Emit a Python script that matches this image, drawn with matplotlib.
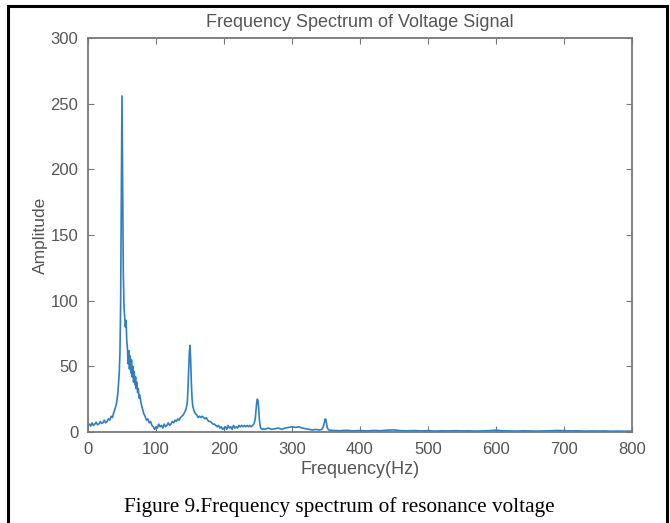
import matplotlib
matplotlib.use("Agg")
import matplotlib.pyplot as plt
from matplotlib.patches import Rectangle

# spectrum (Hz, amplitude)
freq = [0, 2, 4, 6, 8, 10, 12, 14, 16, 18, 20, 22, 24, 26, 28, 30, 32, 34, 36, 38,
        40, 42, 44, 46, 47, 48, 49, 50, 51, 52, 53, 54, 55, 56, 57, 58, 59, 60, 61, 62,
        63, 64, 65, 66, 67, 68, 69, 70, 71, 72, 73, 74, 75, 76, 78, 80, 82, 84, 86, 88,
        90, 92, 94, 96, 98, 100, 102, 104, 106, 108, 110, 112, 114, 116, 118, 120, 122, 124, 126, 128,
        130, 132, 134, 136, 138, 140, 142, 144, 146, 147, 148, 149, 150, 151, 152, 153, 154, 156, 158, 160,
        162, 164, 166, 168, 170, 172, 174, 176, 178, 180, 182, 184, 186, 188, 190, 192, 194, 196, 198, 200,
        202, 204, 206, 208, 210, 212, 214, 216, 218, 220, 222, 224, 226, 228, 230, 232, 234, 236, 238, 240,
        242, 244, 246, 247, 248, 249, 250, 251, 252, 253, 254, 256, 258, 260, 265, 270, 275, 280, 285, 290,
        295, 300, 305, 310, 315, 320, 325, 330, 335, 340, 344, 346, 348, 349, 350, 351, 352, 354, 360, 370,
        380, 390, 400, 410, 420, 430, 440, 450, 460, 470, 480, 490, 500, 510, 520, 530, 540, 550, 560, 570,
        580, 590, 600, 610, 620, 630, 640, 650, 660, 670, 680, 690, 700, 710, 720, 730, 740, 750, 760, 770,
        780, 790, 800]
amp = [5, 6, 4.5, 7, 5, 6, 7.5, 5.5, 6, 8, 6.5, 7, 9, 7, 8, 10, 9, 12, 11, 15,
       18, 22, 30, 45, 60, 95, 170, 256, 190, 120, 95, 88, 80, 85, 70, 64, 52, 62, 48, 58,
       45, 55, 42, 50, 38, 46, 36, 42, 33, 38, 30, 33, 26, 28, 22, 18, 14, 12, 9, 10,
       7, 8, 5, 4, 2, 4, 3, 6, 4, 5, 3, 6, 4, 5, 7, 5, 6, 8, 7, 9,
       8, 10, 9, 11, 12, 13, 15, 17, 22, 32, 45, 60, 66, 55, 38, 26, 20, 16, 14, 13,
       11, 12, 11, 12, 11, 10, 11, 9, 8, 8, 7, 6, 6, 5, 4, 5, 3, 4, 2, 3,
       4, 2, 5, 3, 4, 2, 5, 3, 4, 3, 5, 4, 5, 4, 5, 4, 5, 4, 5, 4,
       5, 6, 10, 16, 22, 25, 24, 18, 10, 5, 3, 2, 2.5, 2, 3, 2, 2.5, 3, 2, 3,
       3.5, 4, 3.5, 4, 3, 2.5, 2, 1.5, 2, 1.5, 2, 4, 8, 10, 9, 6, 3, 1.5, 1.2, 1.0,
       1.3, 0.9, 1.1, 0.8, 1.2, 1.0, 1.4, 1.6, 1.0, 0.9, 1.1, 0.8, 1.0, 0.7, 0.9, 0.8, 1.0, 0.8, 0.9, 0.7,
       0.8, 1.0, 1.4, 0.9, 0.8, 0.7, 0.9, 0.8, 0.7, 0.8, 0.9, 1.2, 1.0, 0.8, 0.9, 0.7, 0.8, 0.7, 0.8, 0.6,
       0.7, 0.6, 0.7]

x_ticks = [0, 100, 200, 300, 400, 500, 600, 700, 800]
y_ticks = [0, 50, 100, 150, 200, 250, 300]

txt = '#555555'
axc = '#777777'

plt.rcParams['font.family'] = ['Liberation Sans', 'DejaVu Sans']

fig = plt.figure(figsize=(6.7, 5.23), dpi=100)
ax = fig.add_axes([0.1313, 0.174, 0.812, 0.753])

ax.plot(freq, amp, color='#2f7fc1', lw=1.2)

ax.set_xlim(0, 800)
ax.set_ylim(0, 300)
ax.set_xticks(x_ticks)
ax.set_yticks(y_ticks)
ax.tick_params(direction='in', length=4, width=0.8, colors=axc, labelcolor=txt,
               labelsize=12, top=True, right=True, pad=7)
for s in ax.spines.values():
    s.set_color(axc)
    s.set_linewidth(1.3)

ax.set_title('Frequency Spectrum of Voltage Signal', fontsize=13, color=txt, pad=8)
ax.set_xlabel('Frequency(Hz)', fontsize=13, color=txt, labelpad=3)
ax.set_ylabel('Amplitude', fontsize=12.5, color=txt, labelpad=2)

fig.text(0.507, 1 - 507 / 523, 'Figure 9.Frequency spectrum of resonance voltage',
         family=['Liberation Serif', 'DejaVu Serif'], fontsize=15.3, color='black',
         ha='center', va='center')

# black frame round the whole picture, its bottom edge cut off
fig.patches.append(Rectangle((8 / 670, -0.05), 659 / 670, 1.05 - 6 / 523,
                             transform=fig.transFigure, fill=False,
                             edgecolor='black', lw=2.2))

fig.savefig('out.png', dpi=100)
